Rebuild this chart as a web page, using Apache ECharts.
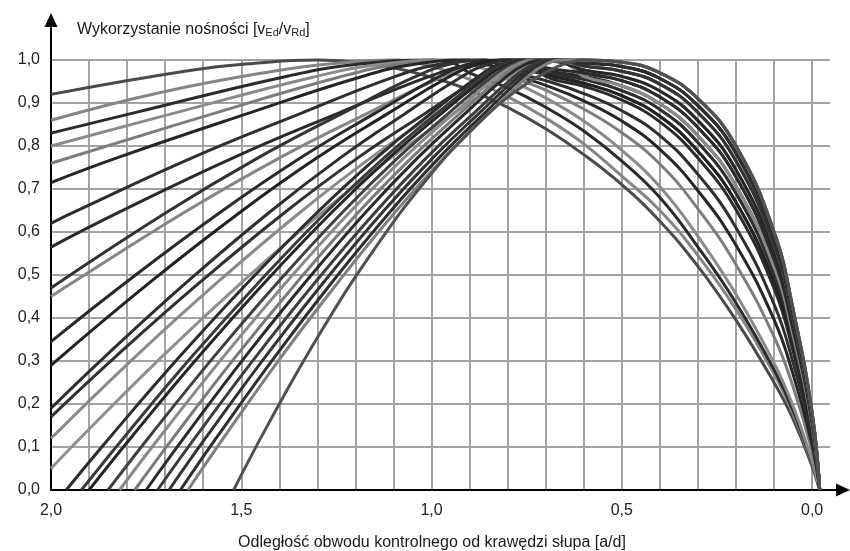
<!DOCTYPE html>
<html><head><meta charset="utf-8">
<script src="https://cdn.jsdelivr.net/npm/echarts@6/dist/echarts.min.js"></script>
<style>html,body{margin:0;padding:0;background:#fff}#c{width:850px;height:551px}</style>
</head><body><div id="c"></div>
<script>
// tick values
const xLabelValues = [2.0, 1.5, 1.0, 0.5, 0.0];
const xGridValues = [2.0, 1.9, 1.8, 1.7, 1.6, 1.5, 1.4, 1.3, 1.2, 1.1, 1.0, 0.9, 0.8, 0.7, 0.6, 0.5, 0.4, 0.3, 0.2, 0.1, 0.0];
const yMin = 0, yMax = 1.0, yStep = 0.1;

// curves: [a/d, vEd/vRd]
const c01 = [[2.0,0.92],[1.64,0.975],[1.47,0.992],[1.3,1.0],[1.2,0.995],[1.1,0.982],[1.0,0.96],[0.9,0.93],[0.8,0.89],[0.7,0.84],[0.6,0.78],[0.5,0.71],[0.4,0.625],[0.3,0.52],[0.2,0.395],[0.1,0.25],[0.05,0.165],[0.0,0.055],[-0.02,0]];
const c02 = [[2.0,0.86],[1.715,0.924],[1.408,0.975],[1.254,0.992],[1.1,1.0],[1.0,0.985],[0.9,0.955],[0.8,0.915],[0.7,0.865],[0.6,0.805],[0.5,0.73],[0.4,0.65],[0.3,0.545],[0.2,0.42],[0.1,0.27],[0.05,0.178],[0.0,0.06],[-0.02,0]];
const c03 = [[2.0,0.83],[1.782,0.877],[1.391,0.96],[1.195,0.99],[1.0,1.0],[0.95,0.995],[0.9,0.97],[0.8,0.935],[0.7,0.89],[0.6,0.835],[0.5,0.765],[0.4,0.68],[0.3,0.565],[0.2,0.435],[0.1,0.28],[0.05,0.185],[0.0,0.063],[-0.02,0]];
const c04 = [[2.0,0.80],[1.674,0.877],[1.312,0.96],[1.131,0.99],[0.95,1.0],[0.88,0.985],[0.8,0.955],[0.7,0.912],[0.6,0.858],[0.5,0.79],[0.4,0.705],[0.3,0.59],[0.2,0.455],[0.1,0.295],[0.05,0.195],[0.0,0.067],[-0.02,0]];
const c05 = [[2.0,0.76],[1.567,0.877],[1.244,0.96],[1.082,0.99],[0.92,1.0],[0.86,0.99],[0.8,0.964],[0.7,0.93],[0.6,0.886],[0.5,0.831],[0.4,0.758],[0.3,0.654],[0.2,0.524],[0.1,0.356],[0.05,0.24],[0.0,0.09],[-0.02,0]];
const c06 = [[2.0,0.715],[1.825,0.773],[1.478,0.877],[1.189,0.96],[1.044,0.99],[0.9,1.0],[0.85,0.99],[0.8,0.97],[0.7,0.941],[0.6,0.905],[0.5,0.858],[0.4,0.792],[0.3,0.696],[0.2,0.569],[0.1,0.396],[0.05,0.269],[0.0,0.104],[-0.02,0]];
const c07 = [[2.0,0.62],[1.94,0.646],[1.628,0.773],[1.34,0.877],[1.10,0.96],[0.98,0.99],[0.86,1.0],[0.8,0.975],[0.7,0.952],[0.6,0.922],[0.5,0.882],[0.4,0.824],[0.3,0.734],[0.2,0.61],[0.1,0.432],[0.05,0.296],[0.0,0.118],[-0.02,0]];
const c08 = [[2.0,0.565],[1.821,0.646],[1.52,0.773],[1.243,0.877],[1.011,0.96],[0.896,0.99],[0.78,1.0],[0.74,0.997],[0.7,0.962],[0.6,0.939],[0.5,0.907],[0.4,0.856],[0.3,0.772],[0.2,0.652],[0.1,0.469],[0.05,0.323],[0.0,0.131],[-0.02,0]];
const c09 = [[2.0,0.47],[1.696,0.646],[1.455,0.773],[1.232,0.877],[1.046,0.96],[0.953,0.99],[0.86,1.0],[0.8,0.983],[0.7,0.967],[0.6,0.946],[0.5,0.917],[0.4,0.869],[0.3,0.788],[0.2,0.669],[0.1,0.484],[0.05,0.335],[0.0,0.137],[-0.02,0]];
const c10 = [[2.0,0.45],[1.939,0.485],[1.649,0.646],[1.398,0.773],[1.166,0.877],[0.973,0.96],[0.877,0.99],[0.78,1.0],[0.74,0.997],[0.7,0.972],[0.6,0.955],[0.5,0.929],[0.4,0.885],[0.3,0.808],[0.2,0.69],[0.1,0.502],[0.05,0.348],[0.0,0.144],[-0.02,0]];
const c11 = [[2.0,0.345],[1.80,0.485],[1.555,0.646],[1.343,0.773],[1.147,0.877],[0.983,0.96],[0.902,0.99],[0.82,1.0],[0.76,0.997],[0.7,0.976],[0.6,0.962],[0.5,0.94],[0.4,0.898],[0.3,0.824],[0.2,0.707],[0.1,0.518],[0.05,0.359],[0.0,0.149],[-0.02,0]];
const c12 = [[2.0,0.29],[1.737,0.485],[1.503,0.646],[1.30,0.773],[1.112,0.877],[0.956,0.96],[0.878,0.99],[0.8,1.0],[0.75,0.996],[0.7,0.967],[0.6,0.946],[0.5,0.917],[0.4,0.869],[0.3,0.788],[0.2,0.669],[0.1,0.484],[0.05,0.335],[0.0,0.137],[-0.02,0]];
const c13 = [[2.0,0.19],[1.856,0.312],[1.641,0.485],[1.426,0.646],[1.239,0.773],[1.067,0.877],[0.923,0.96],[0.852,0.99],[0.78,1.0],[0.74,0.997],[0.7,0.972],[0.6,0.955],[0.5,0.929],[0.4,0.885],[0.3,0.808],[0.2,0.69],[0.1,0.502],[0.05,0.348],[0.0,0.144],[-0.02,0]];
const c14 = [[2.0,0.17],[1.828,0.312],[1.606,0.485],[1.385,0.646],[1.193,0.773],[1.015,0.877],[0.868,0.96],[0.794,0.99],[0.72,1.0],[0.66,0.996],[0.6,0.97],[0.5,0.952],[0.4,0.914],[0.3,0.843],[0.2,0.728],[0.1,0.536],[0.05,0.373],[0.0,0.156],[-0.02,0]];
const c15 = [[2.0,0.12],[1.776,0.312],[1.56,0.485],[1.345,0.646],[1.159,0.773],[0.987,0.877],[0.843,0.96],[0.772,0.99],[0.70,1.0],[0.65,0.994],[0.6,0.962],[0.5,0.94],[0.4,0.898],[0.3,0.824],[0.2,0.707],[0.1,0.518],[0.05,0.359],[0.0,0.149],[-0.02,0]];
const c16 = [[2.0,0.05],[1.915,0.128],[1.706,0.312],[1.496,0.485],[1.287,0.646],[1.106,0.773],[0.939,0.877],[0.799,0.96],[0.73,0.99],[0.66,1.0],[0.6,0.977],[0.5,0.962],[0.4,0.928],[0.3,0.859],[0.2,0.745],[0.1,0.551],[0.05,0.384],[0.0,0.162],[-0.02,0]];
const c17 = [[1.96,0],[1.84,0.128],[1.66,0.312],[1.48,0.485],[1.30,0.646],[1.144,0.773],[1.0,0.877],[0.88,0.96],[0.82,0.99],[0.76,1.0],[0.7,0.982],[0.6,0.97],[0.5,0.952],[0.4,0.914],[0.3,0.843],[0.2,0.728],[0.1,0.536],[0.05,0.373],[0.0,0.156],[-0.02,0]];
const c18 = [[1.92,0],[1.803,0.128],[1.628,0.312],[1.452,0.485],[1.277,0.646],[1.124,0.773],[0.984,0.877],[0.867,0.96],[0.809,0.99],[0.75,1.0],[0.68,0.998],[0.6,0.986],[0.5,0.974],[0.4,0.944],[0.3,0.878],[0.2,0.765],[0.1,0.57],[0.05,0.398],[0.0,0.168],[-0.02,0]];
const c19 = [[1.90,0],[1.784,0.128],[1.61,0.312],[1.436,0.485],[1.262,0.646],[1.111,0.773],[0.972,0.877],[0.856,0.96],[0.798,0.99],[0.74,1.0],[0.67,0.996],[0.6,0.977],[0.5,0.962],[0.4,0.928],[0.3,0.859],[0.2,0.745],[0.1,0.551],[0.05,0.384],[0.0,0.162],[-0.02,0]];
const c20 = [[1.85,0],[1.738,0.128],[1.57,0.312],[1.402,0.485],[1.234,0.646],[1.088,0.773],[0.954,0.877],[0.842,0.96],[0.786,0.99],[0.73,1.0],[0.665,0.999],[0.6,0.993],[0.5,0.985],[0.4,0.957],[0.3,0.894],[0.2,0.783],[0.1,0.585],[0.05,0.409],[0.0,0.174],[-0.02,0]];
const c21 = [[1.82,0],[1.71,0.128],[1.545,0.312],[1.38,0.485],[1.215,0.646],[1.072,0.773],[0.94,0.877],[0.83,0.96],[0.775,0.99],[0.72,1.0],[0.66,0.997],[0.6,0.986],[0.5,0.974],[0.4,0.944],[0.3,0.878],[0.2,0.765],[0.1,0.57],[0.05,0.398],[0.0,0.168],[-0.02,0]];
const c22 = [[1.78,0],[1.673,0.128],[1.513,0.312],[1.352,0.485],[1.192,0.646],[1.052,0.773],[0.924,0.877],[0.817,0.96],[0.764,0.99],[0.71,1.0],[0.6,1.0],[0.5,0.995],[0.4,0.97],[0.3,0.91],[0.2,0.80],[0.1,0.60],[0.05,0.42],[0.0,0.18],[-0.02,0]];
const c23 = [[1.75,0],[1.645,0.128],[1.488,0.312],[1.33,0.485],[1.173,0.646],[1.036,0.773],[0.91,0.877],[0.805,0.96],[0.753,0.99],[0.70,1.0],[0.6,0.993],[0.5,0.985],[0.4,0.957],[0.3,0.894],[0.2,0.783],[0.1,0.585],[0.05,0.409],[0.0,0.174],[-0.02,0]];
const c24 = [[1.72,0],[1.616,0.128],[1.46,0.312],[1.304,0.485],[1.148,0.646],[1.013,0.773],[0.888,0.877],[0.784,0.96],[0.732,0.99],[0.68,1.0],[0.6,1.0],[0.5,0.995],[0.4,0.97],[0.3,0.91],[0.2,0.80],[0.1,0.60],[0.05,0.42],[0.0,0.18],[-0.02,0]];
const c25 = [[1.69,0],[1.588,0.128],[1.435,0.312],[1.282,0.485],[1.129,0.646],[0.996,0.773],[0.874,0.877],[0.772,0.96],[0.721,0.99],[0.67,1.0],[0.6,0.986],[0.5,0.974],[0.4,0.944],[0.3,0.878],[0.2,0.765],[0.1,0.57],[0.05,0.398],[0.0,0.168],[-0.02,0]];
const c26 = [[1.66,0],[1.56,0.128],[1.41,0.312],[1.26,0.485],[1.11,0.646],[0.98,0.773],[0.86,0.877],[0.76,0.96],[0.71,0.99],[0.66,1.0],[0.6,0.993],[0.5,0.985],[0.4,0.957],[0.3,0.894],[0.2,0.783],[0.1,0.585],[0.05,0.409],[0.0,0.174],[-0.02,0]];
const c27 = [[1.64,0],[1.541,0.128],[1.393,0.312],[1.244,0.485],[1.096,0.646],[0.967,0.773],[0.848,0.877],[0.749,0.96],[0.70,0.99],[0.65,1.0],[0.5,0.995],[0.4,0.97],[0.3,0.91],[0.2,0.80],[0.1,0.60],[0.05,0.42],[0.0,0.18],[-0.02,0]];
const c28 = [[1.52,0],[1.428,0.155],[1.29,0.369],[1.152,0.558],[1.014,0.721],[0.894,0.838],[0.784,0.924],[0.692,0.975],[0.646,0.992],[0.60,1.0],[0.5,0.995],[0.4,0.97],[0.3,0.91],[0.2,0.80],[0.1,0.60],[0.05,0.42],[0.0,0.18],[-0.02,0]];

const curves = [c01,c02,c03,c04,c05,c06,c07,c08,c09,c10,c11,c12,c13,c14,c15,c16,c17,c18,c19,c20,c21,c22,c23,c24,c25,c26,c27,c28];
const curveColors = ['#4a4a4a','#858585','#2a2a2a','#8a8a8a','#7d7d7d','#262626','#2e2e2e','#2a2a2a','#333333','#858585','#2a2a2a','#222222','#2e2e2e','#303030','#8a8a8a','#8f8f8f','#2c2c2c','#3a3a3a','#262626','#404040','#8a8a8a','#7a7a7a','#2a2a2a','#3d3d3d','#333333','#2e2e2e','#7f7f7f','#505050'];

const FONT = '"Liberation Sans", Arial, sans-serif';
const fmt = v => Number(v).toFixed(1).replace('.', ',');
const gridColor = '#a3a3a3';

const chart = echarts.init(document.getElementById('c'), null, {renderer: 'canvas'});
const option = {
  animation: false,
  backgroundColor: '#ffffff',
  grid: [
    {left: 51, top: 60, right: 20, bottom: 61},
    {left: 51, top: 20, right: 7, bottom: 61}
  ],
  xAxis: [
    {
      gridIndex: 0, type: 'value', inverse: true, min: -0.047, max: 2.0,
      axisLine: {show: false},
      axisTick: {show: false, customValues: xGridValues},
      axisLabel: {customValues: xLabelValues, formatter: fmt, fontSize: 16, fontFamily: FONT, color: '#222', margin: 13},
      splitLine: {show: true, lineStyle: {color: gridColor, width: 2}}
    },
    {
      gridIndex: 1, type: 'value', min: 0, max: 1,
      axisLine: {show: true, onZero: false, symbol: ['none', 'triangle'], symbolSize: [13, 14], lineStyle: {color: '#000', width: 2}},
      axisTick: {show: false}, axisLabel: {show: false}, splitLine: {show: false}
    }
  ],
  yAxis: [
    {
      gridIndex: 0, type: 'value', min: yMin, max: yMax, interval: yStep,
      axisLine: {show: false}, axisTick: {show: false},
      axisLabel: {formatter: fmt, fontSize: 16, fontFamily: FONT, color: '#222', margin: 11},
      splitLine: {show: true, lineStyle: {color: gridColor, width: 2}}
    },
    {
      gridIndex: 1, type: 'value', min: 0, max: 1,
      axisLine: {show: true, onZero: false, symbol: ['none', 'triangle'], symbolSize: [13, 14], lineStyle: {color: '#000', width: 2}},
      axisTick: {show: false}, axisLabel: {show: false}, splitLine: {show: false}
    }
  ],
  graphic: [
    {
      type: 'text', left: 77, top: 21, silent: true,
      style: {
        text: 'Wykorzystanie nośności [v{s|Ed}/v{s|Rd}]',
        fontSize: 16, fontFamily: FONT, fill: '#1a1a1a',
        rich: {s: {fontSize: 11, fontFamily: FONT, fill: '#1a1a1a', verticalAlign: 'bottom', lineHeight: 12, padding: [6, 0, 0, 0]}}
      }
    },
    {
      type: 'text', x: 432, y: 543, silent: true,
      style: {
        text: 'Odległość obwodu kontrolnego od krawędzi słupa [a/d]',
        fontSize: 16, fontFamily: FONT, fill: '#1a1a1a', textAlign: 'center', textVerticalAlign: 'middle'
      }
    }
  ],
  series: curves.map((d, i) => ({
    type: 'line', xAxisIndex: 0, yAxisIndex: 0, data: d,
    smooth: 0.45, symbol: 'none', showSymbol: false, clip: false, silent: true, z: 3,
    lineStyle: {width: 3, color: curveColors[i]}
  }))
};
chart.setOption(option);
</script>
</body></html>
